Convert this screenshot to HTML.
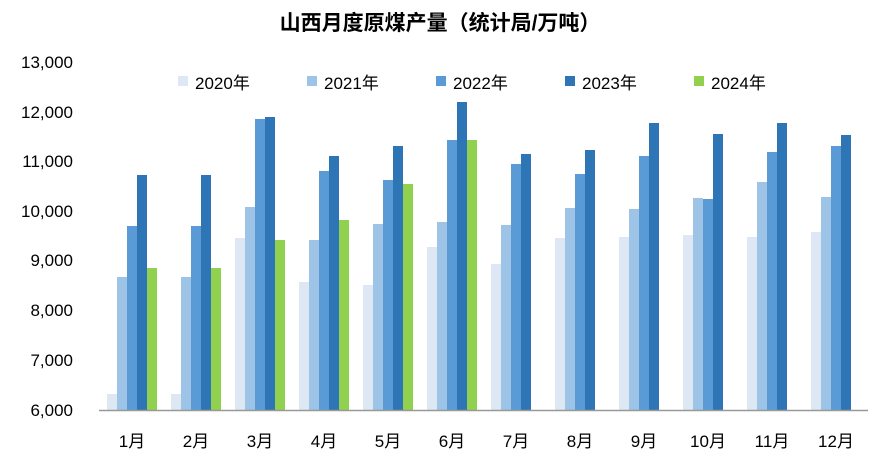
<!DOCTYPE html><html><head><meta charset="utf-8"><style>body{margin:0;background:#fff}</style></head><body>
<svg width="883" height="466" xmlns="http://www.w3.org/2000/svg" font-family="Liberation Sans, Noto Sans CJK SC, sans-serif">
<text x="440" y="30" font-size="21" font-weight="bold" text-anchor="middle" fill="#000">山西月度原煤产量（统计局/万吨）</text>
<g font-size="17" fill="#000" text-anchor="end">
<text x="73" y="68">13,000</text><text x="73" y="118">12,000</text><text x="73" y="167">11,000</text><text x="73" y="217">10,000</text><text x="73" y="266">9,000</text><text x="73" y="316">8,000</text><text x="73" y="366">7,000</text><text x="73" y="416">6,000</text>
</g>
<g font-size="17" fill="#000">
<rect x="178" y="76" width="10" height="10" fill="#dde8f4"/><text x="195" y="89">2020年</text>
<rect x="307" y="76" width="10" height="10" fill="#9dc3e6"/><text x="324" y="89">2021年</text>
<rect x="436" y="76" width="10" height="10" fill="#5b9bd5"/><text x="453" y="89">2022年</text>
<rect x="565" y="76" width="10" height="10" fill="#2e75b6"/><text x="582" y="89">2023年</text>
<rect x="694" y="76" width="10" height="10" fill="#92d050"/><text x="711" y="89">2024年</text>
</g>
<g id="bars"></g>
<line x1="99" y1="410.5" x2="868" y2="410.5" stroke="#999" stroke-width="1.5"/>
<g font-size="17" fill="#000" text-anchor="middle" id="xl"></g>
</svg>
<script>
var d=[[394,277,226,175,268],[394,277,226,175,268],[238,207,119,117,240],[282,240,171,156,220],[285,224,180,146,184],[247,222,140,102,140],[264,225,164,154],[238,208,174,150],[237,209,156,123],[235,198,199,134],[237,182,152,123],[232,197,146,135]];
var c=["#dde8f4","#9dc3e6","#5b9bd5","#2e75b6","#92d050"];
var b=document.getElementById("bars"),xl=document.getElementById("xl"),ns="http://www.w3.org/2000/svg";
d.forEach(function(g,i){var x0=107+64*i;g.forEach(function(t,j){var r=document.createElementNS(ns,"rect");r.setAttribute("x",x0+10*j);r.setAttribute("y",t);r.setAttribute("width",10);r.setAttribute("height",410-t);r.setAttribute("fill",c[j]);b.appendChild(r);});
var tx=document.createElementNS(ns,"text");tx.setAttribute("x",x0+25);tx.setAttribute("y",447);tx.textContent=(i+1)+"月";xl.appendChild(tx);});
</script>
</body></html>
